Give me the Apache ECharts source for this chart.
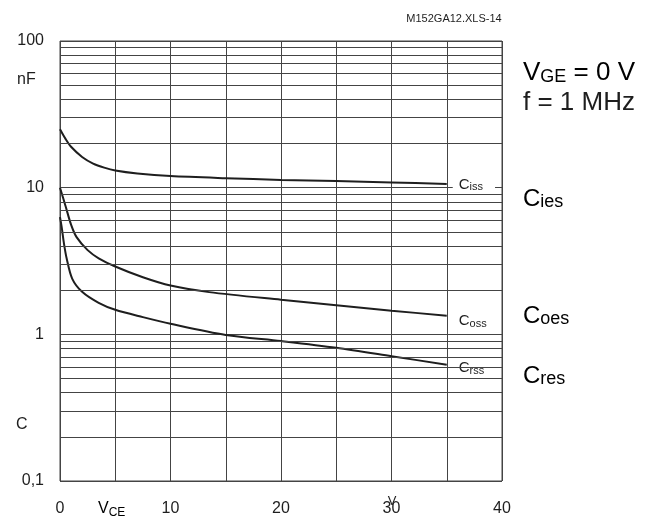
<!DOCTYPE html>
<html>
<head>
<meta charset="utf-8">
<script src="https://cdn.jsdelivr.net/npm/echarts@6/dist/echarts.min.js"></script>
<style>
html,body{margin:0;padding:0;background:#fff;}
#chart{width:653px;height:525px;}
</style>
</head>
<body>
<div id="chart"></div>
<script>
// ---- data ----
const cissV = [0, 0.5, 1, 2, 3, 4, 5, 7, 10, 15, 20, 25, 30, 35];
const cissC = [25, 21.5, 19, 16.2, 14.6, 13.7, 13.1, 12.5, 12.0, 11.6, 11.3, 11.1, 10.85, 10.6];

const cossV = [0, 0.5, 1, 1.5, 2.5, 3.5, 5, 7.5, 10, 13.5, 20, 25, 30, 35];
const cossC = [10, 7.5, 5.6, 4.6, 3.75, 3.3, 2.9, 2.45, 2.15, 1.94, 1.72, 1.58, 1.45, 1.34];

const crssV = [0, 0.15, 0.35, 0.6, 1.1, 2, 3.5, 5, 7.5, 10, 15, 20, 25, 30, 35];
const crssC = [6.3, 5.4, 4.2, 3.3, 2.4, 1.95, 1.64, 1.47, 1.31, 1.18, 0.99, 0.9, 0.81, 0.71, 0.62];

const xTickLabels = ['0', '10', '20', '30', '40'];
const yDecades = [0.1, 1, 10, 100];
const yDecadeLabels = ['0,1', '1', '10', '100'];

// minor log grid lines (2..9 in each decade) - axis styling
const minorGridValues = [];
[0.1, 1, 10].forEach(d => { for (let k = 2; k <= 9; k++) minorGridValues.push(+(k * d).toFixed(3)); });

const zip = (xs, ys) => xs.map((x, i) => [x, ys[i]]);

const FONT = '"Liberation Sans", Arial, Helvetica, sans-serif';
const INK = '#1e1e1e';
const GRID = '#444';

const chart = echarts.init(document.getElementById('chart'), null, {renderer: 'canvas'});

function endLabel(sub, dy, pad) {
  return {
    show: true,
    formatter: '{a|C}{b|' + sub + '}',
    backgroundColor: '#fff',
    padding: pad,
    distance: 6,
    offset: [0, dy],
    rich: {
      a: {fontFamily: FONT, fontSize: 15, color: INK, lineHeight: 16, verticalAlign: 'top'},
      b: {fontFamily: FONT, fontSize: 11, color: INK, lineHeight: 11, verticalAlign: 'bottom'}
    }
  };
}

const curveStyle = {color: INK, width: 2};

const option = {
  animation: false,
  backgroundColor: '#fff',
  grid: {left: 60, right: 151, top: 41, bottom: 44, show: true, borderColor: GRID, borderWidth: 1, containLabel: false},
  xAxis: {
    type: 'value', min: 0, max: 40, interval: 5,
    axisLine: {show: false}, axisTick: {show: false},
    splitLine: {show: true, lineStyle: {color: GRID, width: 1}},
    axisLabel: {
      margin: 20, fontSize: 16, fontFamily: FONT, color: INK,
      formatter: v => { const i = xTickLabels.indexOf(String(v)); return i >= 0 ? xTickLabels[i] : ''; }
    }
  },
  yAxis: {
    type: 'log', logBase: 10, min: 0.1, max: 100,
    axisLine: {show: false}, axisTick: {show: false},
    splitLine: {show: true, lineStyle: {color: GRID, width: 1}},
    axisLabel: {
      margin: 16, fontSize: 16, fontFamily: FONT, color: INK,
      formatter: v => {
        let best = 0;
        yDecades.forEach((d, i) => { if (Math.abs(Math.log10(v) - Math.log10(d)) < 1e-6) best = i + 1; });
        return best ? yDecadeLabels[best - 1] : '';
      }
    }
  },
  series: [
    {
      type: 'line', data: [], silent: true, z: 1,
      markLine: {
        silent: true, symbol: ['none', 'none'], animation: false,
        label: {show: false},
        lineStyle: {color: GRID, width: 1, type: 'solid'},
        data: minorGridValues.map(v => ({yAxis: v}))
      }
    },
    {
      name: 'Ciss', type: 'line', z: 3, data: zip(cissV, cissC), smooth: 0.3,
      showSymbol: false, lineStyle: curveStyle, itemStyle: {color: INK},
      endLabel: endLabel('iss', 1, [3, 12, 3, 6])
    },
    {
      name: 'Coss', type: 'line', z: 3, data: zip(cossV, cossC), smooth: 0.3,
      showSymbol: false, lineStyle: curveStyle, itemStyle: {color: INK},
      endLabel: endLabel('oss', 6, [3, 12, 3, 6])
    },
    {
      name: 'Crss', type: 'line', z: 3, data: zip(crssV, crssC), smooth: 0.3,
      showSymbol: false, lineStyle: curveStyle, itemStyle: {color: INK},
      endLabel: endLabel('rss', 3, [8, 12, 7, 6])
    }
  ],
  graphic: [
    {type: 'text', x: 454, y: 19, style: {text: 'M152GA12.XLS-14', font: '11px ' + FONT, fill: INK, align: 'center', verticalAlign: 'middle'}},
    {type: 'text', x: 17, y: 80, style: {text: 'nF', font: '16px ' + FONT, fill: INK, align: 'left', verticalAlign: 'middle'}},
    {type: 'text', x: 16, y: 425, style: {text: 'C', font: '16px ' + FONT, fill: INK, align: 'left', verticalAlign: 'middle'}},
    {type: 'text', x: 98, y: 510, style: {
      text: '{a|V}{b|CE}', align: 'left', verticalAlign: 'middle',
      rich: {a: {fontFamily: FONT, fontSize: 16, color: INK, lineHeight: 18, verticalAlign: 'top'},
             b: {fontFamily: FONT, fontSize: 12, color: INK, lineHeight: 12, verticalAlign: 'bottom'}}
    }},
    {type: 'text', x: 392, y: 501, style: {text: 'V', font: '13px ' + FONT, fill: INK, align: 'center', verticalAlign: 'middle'}},
    {type: 'text', x: 523, y: 73, style: {
      text: '{a|V}{b|GE}{a| = 0 V}', align: 'left', verticalAlign: 'middle',
      rich: {a: {fontFamily: FONT, fontSize: 26, color: INK, lineHeight: 26, verticalAlign: 'top'},
             b: {fontFamily: FONT, fontSize: 18, color: INK, lineHeight: 18, verticalAlign: 'bottom'}}
    }},
    {type: 'text', x: 523, y: 103, style: {text: 'f = 1 MHz', font: '26px ' + FONT, fill: INK, align: 'left', verticalAlign: 'middle'}},
    {type: 'text', x: 523, y: 199, style: {
      text: '{a|C}{b|ies}', align: 'left', verticalAlign: 'middle',
      rich: {a: {fontFamily: FONT, fontSize: 24, color: INK, lineHeight: 24, verticalAlign: 'top'},
             b: {fontFamily: FONT, fontSize: 18, color: INK, lineHeight: 18, verticalAlign: 'bottom'}}
    }},
    {type: 'text', x: 523, y: 316, style: {
      text: '{a|C}{b|oes}', align: 'left', verticalAlign: 'middle',
      rich: {a: {fontFamily: FONT, fontSize: 24, color: INK, lineHeight: 24, verticalAlign: 'top'},
             b: {fontFamily: FONT, fontSize: 18, color: INK, lineHeight: 18, verticalAlign: 'bottom'}}
    }},
    {type: 'text', x: 523, y: 376, style: {
      text: '{a|C}{b|res}', align: 'left', verticalAlign: 'middle',
      rich: {a: {fontFamily: FONT, fontSize: 24, color: INK, lineHeight: 24, verticalAlign: 'top'},
             b: {fontFamily: FONT, fontSize: 18, color: INK, lineHeight: 18, verticalAlign: 'bottom'}}
    }}
  ]
};

chart.setOption(option);
</script>
</body>
</html>
